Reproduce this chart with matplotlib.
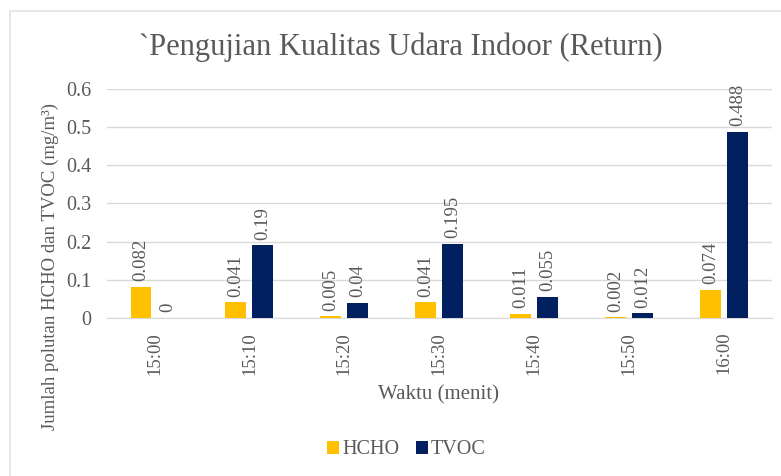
import numpy as np
import matplotlib.pyplot as plt
from matplotlib.lines import Line2D

waktu = ['15:00', '15:10', '15:20', '15:30', '15:40', '15:50', '16:00']
hcho = [0.082, 0.041, 0.005, 0.041, 0.011, 0.002, 0.074]
tvoc = [0, 0.19, 0.04, 0.195, 0.055, 0.012, 0.488]

plt.rcParams['font.family'] = ['Liberation Serif', 'DejaVu Serif']
grey = '#595959'

fig = plt.figure(figsize=(7.81, 4.76), dpi=100)
# light frame (top and left edge only, like the pasted chart)
fx, fy = 9.5 / 781, 1 - 10.5 / 476
fig.add_artist(Line2D([fx, 1], [fy, fy], color='#E3E3E3', lw=1.2, transform=fig.transFigure))
fig.add_artist(Line2D([fx, fx], [0, fy], color='#E3E3E3', lw=1.2, transform=fig.transFigure))

ax = fig.add_axes([0.137, 0.332, 0.851, 0.481])

x = np.arange(len(waktu))
w = 0.22
off = 0.142
b1 = ax.bar(x - off, hcho, w, color='#FFC000', label='HCHO', zorder=3)
b2 = ax.bar(x + off, tvoc, w, color='#002060', label='TVOC', zorder=3)

for bars, vals in [(b1, hcho), (b2, tvoc)]:
    for b, v in zip(bars, vals):
        ax.annotate(f'{v:g}', (b.get_x() + b.get_width() / 2, v), xytext=(0, 4),
                    textcoords='offset points', rotation=90, ha='center', va='bottom',
                    fontsize=13.5, color=grey)

ax.set_xlim(-0.5, len(waktu) - 0.5)
ax.set_ylim(0, 0.6)
ax.set_yticks(np.arange(0, 0.61, 0.1))
ax.set_yticklabels(['0', '0.1', '0.2', '0.3', '0.4', '0.5', '0.6'])
ax.set_xticks(x)
ax.set_xticklabels(waktu, rotation=90, fontsize=13.5)
ax.tick_params(axis='y', length=0, labelsize=14.5, colors=grey, pad=11)
ax.tick_params(axis='x', length=0, colors=grey, pad=10)
ax.yaxis.grid(True, color='#D9D9D9', linewidth=1, zorder=0)
for s in ['top', 'right', 'left']:
    ax.spines[s].set_visible(False)
ax.spines['bottom'].set_color('#D9D9D9')

fig.text(401 / 781, 1 - 55 / 476, '`Pengujian Kualitas Udara Indoor (Return)',
         fontsize=22, color=grey, ha='center', va='baseline')
fig.text(438.5 / 781, 1 - 395 / 476, 'Waktu (menit)', fontsize=15, color=grey,
         ha='center', va='center')
fig.text(50 / 781, 1 - 266 / 476, 'Jumlah polutan HCHO dan TVOC (mg/m³)',
         fontsize=13.5, color=grey, rotation=90, ha='center', va='center')

fig.legend(handles=[b1, b2], loc='center', bbox_to_anchor=(406.5 / 781, 1 - 450 / 476), ncol=2,
           frameon=False, fontsize=14.5, handlelength=0.6, handleheight=0.6,
           handletextpad=0.15, columnspacing=0.8, labelcolor=grey)

fig.savefig('out.png', dpi=100)
